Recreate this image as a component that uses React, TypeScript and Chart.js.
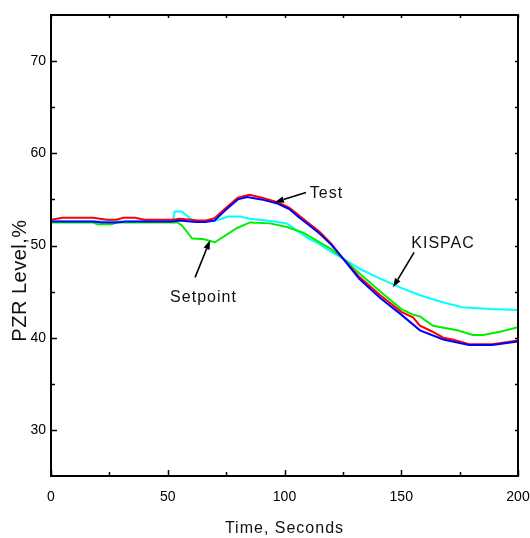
import { useEffect, useRef } from "react";
import { Chart, registerables } from "chart.js";

Chart.register(...registerables);

// Pressurizer level transient, time in seconds
const testTime = [0, 5, 18, 24, 28, 31, 36, 40, 52, 55, 60, 63, 66, 70, 75, 80, 85, 90, 97, 102, 106, 110, 115, 120, 125, 132, 141, 150, 155, 158, 163, 168, 172, 179, 189, 200];
const testLevel = [52.8, 53.0, 53.0, 52.8, 52.8, 53.0, 53.0, 52.8, 52.8, 52.9, 52.8, 52.7, 52.7, 52.95, 54.1, 55.2, 55.5, 55.2, 54.7, 54.1, 53.3, 52.5, 51.5, 50.2, 48.6, 46.6, 44.6, 42.8, 42.2, 41.3, 40.7, 40.0, 39.8, 39.3, 39.3, 39.7];

const calcTime = [0, 18, 22, 28, 32, 52, 55, 62, 66, 70, 75, 80, 84, 90, 97, 102, 106, 110, 115, 120, 125, 132, 141, 150, 158, 168, 179, 189, 200];
const calcLevel = [52.6, 52.6, 52.5, 52.5, 52.6, 52.6, 52.7, 52.55, 52.55, 52.7, 53.9, 55.0, 55.25, 55.0, 54.55, 53.95, 53.1, 52.3, 51.3, 50.1, 48.6, 46.4, 44.3, 42.5, 40.8, 39.8, 39.2, 39.2, 39.6];

const kispacTime = [0, 52, 53, 56, 61, 70, 73.7, 76, 81, 85, 94, 101, 106, 110, 114, 120, 125, 132, 141, 150, 158, 167, 176, 188, 200];
const kispacLevel = [52.6, 52.6, 53.7, 53.7, 52.65, 52.65, 52.95, 53.15, 53.15, 52.9, 52.65, 52.4, 51.5, 50.8, 50.3, 49.3, 48.6, 47.5, 46.4, 45.4, 44.6, 43.9, 43.3, 43.1, 43.0];

const setpointTime = [0, 18, 20, 26, 28, 54, 56, 60.5, 65, 70.2, 79.7, 85.2, 93.8, 101, 108, 114, 120, 125, 132, 141, 150, 155, 158, 163.6, 174, 180.7, 185, 192.3, 200];
const setpointLevel = [52.5, 52.5, 52.3, 52.3, 52.5, 52.5, 52.2, 50.75, 50.7, 50.35, 51.9, 52.5, 52.4, 52.0, 51.4, 50.5, 49.6, 48.6, 47.0, 45.0, 43.1, 42.5, 42.3, 41.3, 40.8, 40.3, 40.3, 40.65, 41.15];

const xMajorTicks = [0, 50, 100, 150, 200];
const xMinorTicks = [25, 75, 125, 175];
const yMajorTicks = [30, 40, 50, 60, 70];
const yMinorTicks = [35, 45, 55, 65];

// Callout labels: text position and arrow tail/head, in axis units
const callouts = [
  { text: "Test", at: [118, 55.18], tail: [109.2, 55.76], head: [95.9, 54.68] },
  { text: "Setpoint", at: [65.3, 43.86], tail: [61.7, 46.54], head: [68.1, 50.56] },
  { text: "KISPAC", at: [167.9, 49.76], tail: [155.5, 49.25], head: [146.5, 45.46] },
];

const FONT = '"Liberation Sans", Arial, sans-serif';
const TICK_FONT = '"Liberation Sans Narrow", "Arial Narrow", "Liberation Sans", Arial, sans-serif';

const toPoints = (t: number[], v: number[]) => t.map((x, i) => ({ x, y: v[i] }));

const decorPlugin = {
  id: "decor",
  afterDraw(chart: any) {
    const { ctx, chartArea: a } = chart;
    const x = chart.scales.x;
    const y = chart.scales.y;
    ctx.save();
    ctx.strokeStyle = "#000";
    ctx.fillStyle = "#000";

    // inward ticks on all four sides
    ctx.lineWidth = 1.5;
    ctx.beginPath();
    const xTick = (v: number, len: number) => {
      const p = Math.round(x.getPixelForValue(v)) + 0.5;
      ctx.moveTo(p, a.bottom);
      ctx.lineTo(p, a.bottom - len);
      ctx.moveTo(p, a.top);
      ctx.lineTo(p, a.top + 3);
    };
    const yTick = (v: number, len: number) => {
      const p = Math.round(y.getPixelForValue(v)) + 0.5;
      ctx.moveTo(a.left, p);
      ctx.lineTo(a.left + len, p);
      ctx.moveTo(a.right, p);
      ctx.lineTo(a.right - 3, p);
    };
    xMajorTicks.forEach((v) => xTick(v, 6));
    xMinorTicks.forEach((v) => xTick(v, 4));
    yMajorTicks.forEach((v) => yTick(v, 6));
    yMinorTicks.forEach((v) => yTick(v, 4));
    ctx.stroke();

    // frame
    ctx.lineWidth = 2;
    ctx.strokeRect(a.left, a.top, a.right - a.left, a.bottom - a.top);

    // callouts
    ctx.font = `16px ${FONT}`;
    (ctx as any).letterSpacing = "1px";
    ctx.textAlign = "center";
    ctx.textBaseline = "alphabetic";
    callouts.forEach((c) => {
      ctx.fillStyle = "#111";
      ctx.fillText(c.text, x.getPixelForValue(c.at[0]), y.getPixelForValue(c.at[1]));
      const tx = x.getPixelForValue(c.tail[0]);
      const ty = y.getPixelForValue(c.tail[1]);
      const hx = x.getPixelForValue(c.head[0]);
      const hy = y.getPixelForValue(c.head[1]);
      const ang = Math.atan2(hy - ty, hx - tx);
      const hl = 9;
      const hw = 3.2;
      const bx = hx - hl * Math.cos(ang);
      const by = hy - hl * Math.sin(ang);
      ctx.strokeStyle = "#000";
      ctx.fillStyle = "#000";
      ctx.lineWidth = 1.6;
      ctx.beginPath();
      ctx.moveTo(tx, ty);
      ctx.lineTo(bx, by);
      ctx.stroke();
      ctx.beginPath();
      ctx.moveTo(hx, hy);
      ctx.lineTo(bx + hw * Math.sin(ang), by - hw * Math.cos(ang));
      ctx.lineTo(bx - hw * Math.sin(ang), by + hw * Math.cos(ang));
      ctx.closePath();
      ctx.fill();
    });

    // axis titles
    ctx.fillStyle = "#111";
    ctx.font = `16px ${FONT}`;
    (ctx as any).letterSpacing = "1px";
    ctx.fillText("Time, Seconds", (a.left + a.right) / 2, 533);

    ctx.save();
    ctx.translate(26, y.getPixelForValue(46.2));
    ctx.rotate(-Math.PI / 2);
    ctx.font = `20px ${FONT}`;
    (ctx as any).letterSpacing = "0.5px";
    ctx.fillText("PZR Level,%", 0, 0);
    ctx.restore();

    (ctx as any).letterSpacing = "0px";
    ctx.restore();
  },
};

export default function App() {
  const canvasRef = useRef<HTMLCanvasElement | null>(null);

  useEffect(() => {
    const canvas = canvasRef.current;
    if (!canvas) return;
    const line = (label: string, t: number[], v: number[], color: string) => ({
      label,
      data: toPoints(t, v),
      borderColor: color,
      backgroundColor: color,
      borderWidth: 2,
      pointRadius: 0,
      tension: 0,
      fill: false,
    });
    const chart = new Chart(canvas, {
      type: "line",
      data: {
        datasets: [
          line("Calculation", calcTime, calcLevel, "#0000ff"),
          line("Test", testTime, testLevel, "#ff0000"),
          line("Setpoint", setpointTime, setpointLevel, "#00ee00"),
          line("KISPAC", kispacTime, kispacLevel, "#00ffff"),
        ],
      },
      options: {
        animation: false,
        responsive: false,
        devicePixelRatio: 1,
        layout: { padding: { top: 15, right: 12, left: 0, bottom: 0 } },
        plugins: { legend: { display: false }, tooltip: { enabled: false } },
        scales: {
          x: {
            type: "linear",
            min: 0,
            max: 200,
            afterFit: (s: any) => {
              s.height = 62;
              s.paddingLeft = 0;
              s.paddingRight = 0;
            },
            afterBuildTicks: (s: any) => {
              s.ticks = xMajorTicks.map((value) => ({ value }));
            },
            grid: { display: false, drawTicks: false },
            border: { display: false },
            ticks: {
              padding: 13,
              color: "#000",
              font: { family: TICK_FONT, size: 14 },
              maxRotation: 0,
            },
          },
          y: {
            type: "linear",
            min: 25,
            max: 75,
            afterFit: (s: any) => {
              s.width = 51;
              s.paddingTop = 0;
              s.paddingBottom = 0;
            },
            afterBuildTicks: (s: any) => {
              s.ticks = yMajorTicks.map((value) => ({ value }));
            },
            grid: { display: false, drawTicks: false },
            border: { display: false },
            ticks: {
              padding: 5,
              color: "#000",
              font: { family: TICK_FONT, size: 14 },
            },
          },
        },
      },
      plugins: [decorPlugin],
    });
    return () => chart.destroy();
  }, []);

  return (
    <div style={{ position: "fixed", left: 0, top: 0, width: 530, height: 538, background: "#fff" }}>
      <canvas ref={canvasRef} width={530} height={538} style={{ width: 530, height: 538, display: "block" }} />
    </div>
  );
}
